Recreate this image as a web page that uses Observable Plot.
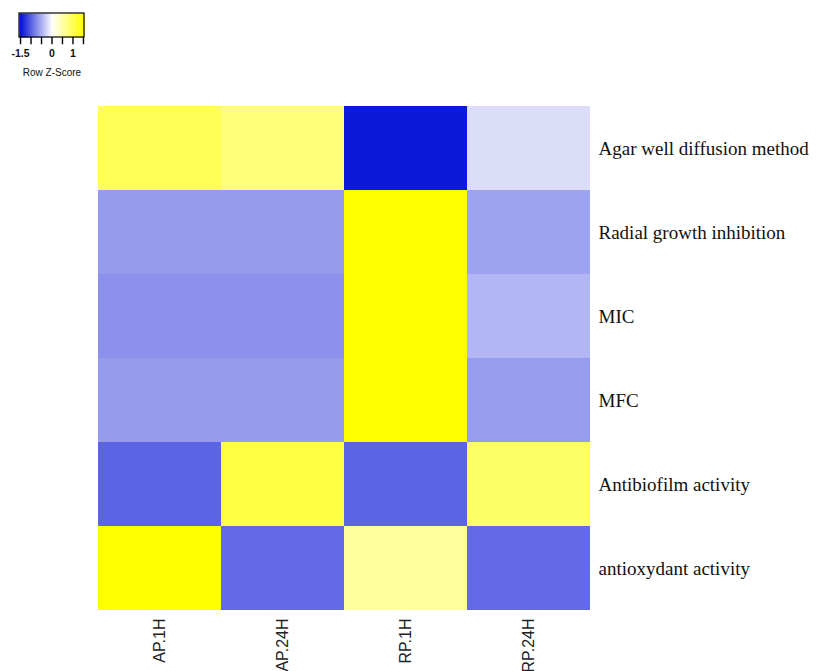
<!DOCTYPE html>
<html>
<head>
<meta charset="utf-8">
<script src="https://cdn.jsdelivr.net/npm/d3@7"></script>
<script src="https://cdn.jsdelivr.net/npm/@observablehq/plot@0.6"></script>
<style>
  html, body { margin: 0; padding: 0; background: #fff; }
  #wrap { position: relative; width: 818px; height: 671px; overflow: hidden; }
  #legend { position: absolute; left: 0; top: 0; }
  #chart { position: absolute; left: 0; top: 0; }
</style>
</head>
<body>
<div id="wrap"><div id="chart"></div><div id="legend"></div></div>
<script>
// Samples (columns) and assays (rows)
const samples = ["AP.1H", "AP.24H", "RP.1H", "RP.24H"];
const assays = [
  "Agar well diffusion method",
  "Radial growth inhibition",
  "MIC",
  "MFC",
  "Antibiofilm activity",
  "antioxydant activity"
];
// Row z-scores, one array per assay, in sample order
const agarWell     = [1.00, 0.79, -1.45, -0.21];
const radialGrowth = [-0.63, -0.63, 1.50, -0.58];
const mic          = [-0.69, -0.69, 1.50, -0.46];
const mfc          = [-0.63, -0.63, 1.50, -0.62];
const antibiofilm  = [-0.98, 1.10, -0.98, 0.90];
const antioxydant  = [1.50, -0.94, 0.56, -0.94];
const rowValues = [agarWell, radialGrowth, mic, mfc, antibiofilm, antioxydant];

// Colour key
const keyTicks = [-1.5, -1, -0.5, 0, 0.5, 1, 1.5];
const keyLabels = [-1.5, 0, 1];
const keyTitle = "Row Z-Score";

const cells = [];
assays.forEach((a, i) => samples.forEach((s, j) => cells.push({assay: a, sample: s, z: rowValues[i][j]})));

const colorOpts = {
  type: "linear",
  domain: [-1.5, 0, 1.5],
  range: ["#0412D6", "#ffffff", "#ffff00"],
  interpolate: "rgb",
  clamp: true
};

const chart = Plot.plot({
  width: 818,
  height: 671,
  marginLeft: 97,
  marginRight: 228,
  marginTop: 103,
  marginBottom: 59,
  style: {background: "transparent"},
  x: {type: "band", domain: samples, padding: 0, label: null},
  y: {type: "band", domain: assays, padding: 0, label: null},
  color: colorOpts,
  marks: [
    Plot.cell(cells, {x: "sample", y: "assay", fill: "z"}),
    Plot.axisX({anchor: "bottom", tickSize: 0, tickPadding: 6, tickRotate: -90,
      fontSize: 16, fontFamily: "Liberation Sans, Arial, sans-serif", fill: "#222", label: null}),
    Plot.axisY({anchor: "right", tickSize: 0, tickPadding: 8,
      fontSize: 19, fontFamily: "Liberation Serif, Times New Roman, serif", fill: "#111", label: null})
  ]
});
document.getElementById("chart").appendChild(chart);

const legend = Plot.plot({
  width: 110,
  height: 90,
  marginLeft: 19,
  marginRight: 26,
  marginTop: 0,
  marginBottom: 0,
  style: {background: "transparent", overflow: "visible"},
  x: {domain: [-1.55, 1.55], axis: null},
  y: {domain: [0, 1], range: [37, 13], axis: null},
  color: colorOpts,
  marks: [
    Plot.raster({x1: -1.55, x2: 1.55, y1: 0, y2: 1, width: 200, height: 1, fill: (x, y) => x, imageRendering: "auto"}),
    Plot.rect([0], {x1: -1.55, x2: 1.55, y1: 0, y2: 1, stroke: "#000", strokeWidth: 1.2, fill: "none"}),
    Plot.ruleX(keyTicks, {x: d => d, y1: 0, y2: -0.3, stroke: "#000", strokeWidth: 1.4}),
    Plot.text(keyLabels, {x: d => d, y: -0.68, text: d => String(d), fontSize: 10.5, fontWeight: 600, fontFamily: "Liberation Sans, Arial, sans-serif", fill: "#111"}),
    Plot.text([keyTitle], {x: 0, y: -1.46, text: d => d, fontSize: 10, fontFamily: "Liberation Sans, Arial, sans-serif", fill: "#111"})
  ]
});
document.getElementById("legend").appendChild(legend);
</script>
</body>
</html>
